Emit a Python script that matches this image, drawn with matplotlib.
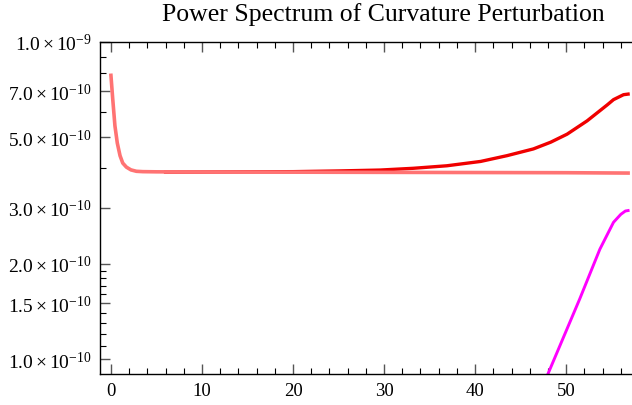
import numpy as np
import matplotlib
matplotlib.use("Agg")
import matplotlib.pyplot as plt
from matplotlib.ticker import FixedLocator, NullFormatter

plt.rcParams['font.family'] = ['Liberation Serif', 'DejaVu Serif']
plt.rcParams['mathtext.fontset'] = 'custom'
plt.rcParams['mathtext.rm'] = 'Liberation Serif'
plt.rcParams['mathtext.it'] = 'Liberation Serif:italic'
plt.rcParams['mathtext.default'] = 'regular'

# curves (values in units of 1e-10)
x_light = [0, 0.2, 0.44, 0.7, 1.0, 1.3, 1.7, 2.2, 2.8, 3.5, 5, 10, 20, 30, 40, 50, 56.8]
p_light = [7.85, 6.6, 5.44, 4.8, 4.38, 4.15, 4.03, 3.95, 3.91, 3.90, 3.895, 3.89, 3.885, 3.88, 3.875, 3.87, 3.86]

x_red = [6, 10, 20, 25, 29.6, 33.2, 36.9, 40.6, 43.5, 46.4, 48.3, 50.1, 52.3, 53.7, 54.5, 55.2, 56.3, 56.8]
p_red = [3.89, 3.89, 3.90, 3.92, 3.946, 3.996, 4.07, 4.20, 4.38, 4.60, 4.83, 5.12, 5.64, 6.07, 6.33, 6.58, 6.82, 6.85]

x_mag = [47.8, 51.5, 53.7, 55.2, 56.0, 56.5, 56.8]
p_mag = [0.87, 1.55, 2.22, 2.70, 2.86, 2.93, 2.94]

y_major = [1.0, 1.5, 2.0, 3.0, 5.0, 7.0, 10.0]
y_labels = [r'$1.0\times10^{-10}$', r'$1.5\times10^{-10}$', r'$2.0\times10^{-10}$',
            r'$3.0\times10^{-10}$', r'$5.0\times10^{-10}$', r'$7.0\times10^{-10}$',
            r'$1.0\times10^{-9}$']
y_minor = [1.1, 1.2, 1.3, 1.4, 1.6, 1.7, 1.8, 1.9, 4.0, 6.0, 8.0, 9.0]

fig = plt.figure(figsize=(6.32, 4.06), dpi=100)
ax = fig.add_axes([100 / 632, 31 / 406, 534 / 632, 332 / 406])

ax.plot(x_red, np.array(p_red) * 1e-10, color='#f00000', lw=2.4)
ax.plot(x_light, np.array(p_light) * 1e-10, color='#ff7373', lw=2.6)
ax.plot(x_mag, np.array(p_mag) * 1e-10, color='#ff00ff', lw=2.1)

ax.set_yscale('log')
ax.set_xlim(-1.2, 57.45)
ax.set_ylim(0.897e-10, 1.0e-9)

ax.xaxis.set_major_locator(FixedLocator([0, 10, 20, 30, 40, 50]))
ax.xaxis.set_minor_locator(FixedLocator(np.arange(0, 58, 2)))
ax.yaxis.set_major_locator(FixedLocator(np.array(y_major) * 1e-10))
ax.yaxis.set_minor_locator(FixedLocator(np.array(y_minor) * 1e-10))
ax.set_yticklabels(y_labels)
ax.yaxis.set_minor_formatter(NullFormatter())

ax.tick_params(which='both', direction='in', top=True, right=False, pad=6)
ax.tick_params(axis='y', labelsize=14)
ax.tick_params(axis='x', labelsize=13.5)
ax.tick_params(which='major', length=7, width=1.0, color='#555555')
ax.tick_params(which='minor', length=4, width=0.8)
ax.spines['right'].set_visible(False)
for s in ax.spines.values():
    s.set_linewidth(1.0)

fig.text(383 / 632, 1 - 15 / 406, 'Power Spectrum of Curvature Perturbation',
         ha='center', va='center', fontsize=18.5)

fig.savefig('out.png', dpi=100)
